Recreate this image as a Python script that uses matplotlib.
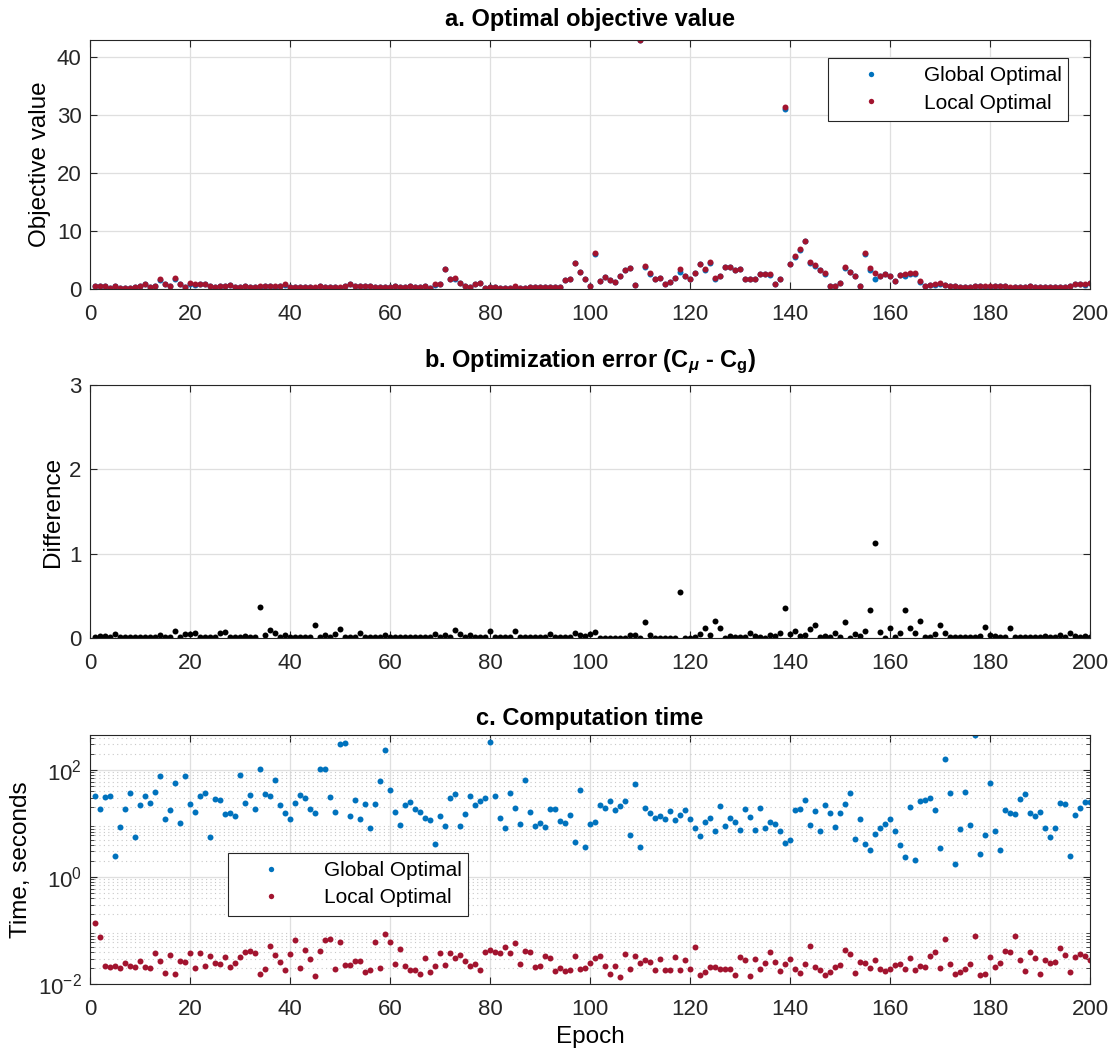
import numpy as np
import matplotlib.pyplot as plt
from matplotlib.ticker import LogLocator, NullFormatter

plt.rcParams['font.family'] = ['Liberation Sans', 'DejaVu Sans']
plt.rcParams['mathtext.fontset'] = 'custom'
plt.rcParams['mathtext.rm'] = 'Liberation Sans:bold'
plt.rcParams['mathtext.it'] = 'Liberation Sans:bold:italic'
plt.rcParams['mathtext.bf'] = 'Liberation Sans:bold'

BLUE = '#0072BD'
RED = '#A2142F'
SPINE = '#262626'

epochs = np.arange(1, 201)

# objective value reached by the local solver, per epoch
local_obj = [
    0.57, 0.57, 0.57, 0.23, 0.57, 0.23, 0.23, 0.23, 0.34, 0.57,
    0.86, 0.34, 0.46, 1.67, 0.80, 0.46, 1.84, 0.80, 0.34, 0.97,
    0.80, 0.80, 0.80, 0.57, 0.34, 0.57, 0.57, 0.69, 0.34, 0.34,
    0.57, 0.34, 0.34, 0.57, 0.57, 0.57, 0.46, 0.57, 0.80, 0.34,
    0.34, 0.34, 0.34, 0.34, 0.34, 0.46, 0.34, 0.34, 0.34, 0.34,
    0.57, 0.80, 0.57, 0.57, 0.46, 0.57, 0.34, 0.34, 0.34, 0.34,
    0.46, 0.34, 0.34, 0.46, 0.34, 0.34, 0.46, 0.23, 0.80, 0.80,
    3.45, 1.67, 1.84, 1.09, 0.57, 0.34, 0.80, 0.97, 0.23, 0.34,
    0.34, 0.23, 0.23, 0.23, 0.46, 0.23, 0.23, 0.34, 0.34, 0.34,
    0.34, 0.34, 0.34, 0.34, 1.49, 1.72, 4.54, 2.99, 1.67, 0.57,
    6.15, 1.44, 2.07, 1.55, 1.15, 2.18, 3.28, 3.68, 0.75, 43.0,
    3.97, 2.70, 1.72, 1.95, 0.92, 1.15, 1.95, 3.45, 2.30, 1.72,
    2.82, 4.31, 3.39, 4.60, 1.95, 2.30, 3.79, 3.74, 3.22, 3.39,
    1.78, 1.78, 1.67, 2.53, 2.64, 2.53, 0.92, 1.72, 31.5, 4.31,
    5.69, 6.84, 8.33, 4.66, 4.14, 3.33, 2.70, 0.57, 0.51, 1.03,
    3.74, 2.99, 2.30, 0.57, 6.15, 3.56, 2.82, 2.30, 2.53, 2.30,
    1.38, 2.41, 2.64, 2.70, 2.70, 1.44, 0.57, 0.69, 0.80, 1.09,
    0.69, 0.57, 0.46, 0.34, 0.34, 0.34, 0.46, 0.57, 0.46, 0.46,
    0.46, 0.57, 0.57, 0.34, 0.34, 0.34, 0.34, 0.46, 0.34, 0.34,
    0.34, 0.34, 0.34, 0.34, 0.34, 0.57, 0.80, 0.92, 0.80, 1.00,
]

# optimization error C_mu - C_g
opt_error = [
    0.010, 0.020, 0.020, 0.010, 0.050, 0.010, 0.010, 0.010, 0.010, 0.010,
    0.010, 0.010, 0.010, 0.035, 0.010, 0.010, 0.080, 0.010, 0.050, 0.050,
    0.060, 0.010, 0.010, 0.010, 0.010, 0.055, 0.075, 0.010, 0.010, 0.010,
    0.020, 0.010, 0.010, 0.370, 0.040, 0.100, 0.055, 0.010, 0.040, 0.010,
    0.010, 0.010, 0.010, 0.010, 0.155, 0.010, 0.040, 0.010, 0.048, 0.107,
    0.010, 0.010, 0.010, 0.060, 0.010, 0.010, 0.010, 0.010, 0.035, 0.010,
    0.010, 0.010, 0.010, 0.010, 0.010, 0.010, 0.010, 0.010, 0.048, 0.010,
    0.040, 0.010, 0.100, 0.048, 0.010, 0.040, 0.010, 0.010, 0.010, 0.080,
    0.010, 0.010, 0.010, 0.010, 0.080, 0.010, 0.010, 0.010, 0.010, 0.010,
    0.010, 0.048, 0.010, 0.010, 0.010, 0.010, 0.055, 0.040, 0.028, 0.048,
    0.067, 0.005, 0.005, 0.005, 0.005, 0.005, 0.005, 0.036, 0.040, 0.005,
    0.190, 0.040, 0.005, 0.005, 0.005, 0.005, 0.005, 0.540, 0.005, 0.005,
    0.016, 0.048, 0.120, 0.040, 0.200, 0.123, 0.005, 0.020, 0.010, 0.010,
    0.010, 0.055, 0.024, 0.010, 0.005, 0.040, 0.028, 0.060, 0.360, 0.048,
    0.083, 0.028, 0.036, 0.107, 0.160, 0.008, 0.028, 0.016, 0.055, 0.016,
    0.190, 0.002, 0.044, 0.024, 0.087, 0.337, 1.127, 0.075, 0.002, 0.123,
    0.016, 0.055, 0.333, 0.115, 0.055, 0.200, 0.008, 0.008, 0.048, 0.160,
    0.055, 0.008, 0.016, 0.008, 0.008, 0.016, 0.008, 0.024, 0.130, 0.040,
    0.028, 0.008, 0.008, 0.120, 0.016, 0.016, 0.016, 0.008, 0.008, 0.016,
    0.024, 0.008, 0.008, 0.036, 0.008, 0.060, 0.024, 0.016, 0.028, 0.016,
]

global_obj = np.array(local_obj) - np.array(opt_error)

# computation time in seconds
global_time = [
    32.6, 18.8, 30.7, 32.6, 2.45, 8.5, 18.8, 36.6, 5.5, 22.4,
    32.1, 23.7, 39.3, 77.5, 12.0, 18.0, 58, 10.3, 76, 23.4,
    16.3, 32.1, 37.6, 5.6, 29, 27.8, 15.2, 15.8, 13.6, 81.8,
    24, 33.5, 18.6, 103, 36, 32.6, 65, 22, 15.8, 12.2,
    24.4, 33.5, 29.4, 18.8, 15.6, 103, 103, 31.2, 16.3, 303,
    325, 13.6, 27.8, 12.4, 23, 8.4, 23.4, 63, 237, 42,
    16.3, 9.2, 21.8, 25.1, 18.3, 16.1, 12.8, 11.5, 4.1, 13.7,
    8.9, 29.8, 35.5, 8.9, 15, 32.1, 22.4, 26.6, 29.4, 340,
    32.1, 12.8, 8.2, 37.6, 19.1, 9.8, 66, 16.1, 9, 10.3,
    8.7, 18.8, 18.3, 11, 10.3, 14.3, 4.5, 41.6, 3.7, 9.8,
    10.7, 21.8, 19.6, 26.2, 17.8, 20.8, 25.8, 6.0, 55.4, 3.7,
    19.1, 15.8, 12.6, 13.7, 11.9, 16.8, 11.4, 14.3, 18, 11.9,
    8.4, 5.8, 10.5, 12.6, 7.2, 21.1, 9, 12.8, 10.7, 7.6,
    18.6, 13.3, 7.7, 19.6, 8.2, 10.7, 9.7, 7.2, 4.3, 4.9,
    18, 18.3, 27, 9.2, 17.3, 7.1, 22, 15.6, 8.7, 15.6,
    23.4, 37.6, 5.2, 12, 4.1, 3.2, 6.4, 8.1, 9.7, 12,
    7.3, 4, 2.4, 20.6, 2.1, 25.8, 27.8, 29.8, 18, 3.5,
    161, 37.6, 1.78, 7.8, 38.7, 9.2, 450, 2.7, 6, 57,
    7.1, 3.2, 18, 15.6, 14.8, 29, 36, 15.4, 13.9, 16.6,
    8.2, 5.5, 8.3, 24.4, 23.4, 2.45, 14.6, 19.3, 24.8, 25.1,
]

local_time = [
    0.139, 0.076, 0.0218, 0.0209, 0.0218, 0.0203, 0.0248, 0.022, 0.0209, 0.027,
    0.0209, 0.0203, 0.0387, 0.0266, 0.0161, 0.0345, 0.0156, 0.0266, 0.0258, 0.038,
    0.02, 0.038, 0.022, 0.0335, 0.0248, 0.0233, 0.032, 0.0209, 0.025, 0.0316,
    0.039, 0.0415, 0.0387, 0.0152, 0.0194, 0.051, 0.0345, 0.026, 0.0185, 0.0365,
    0.066, 0.0197, 0.044, 0.03, 0.0143, 0.041, 0.068, 0.069, 0.019, 0.06,
    0.023, 0.023, 0.0266, 0.0266, 0.0168, 0.0183, 0.062, 0.02, 0.088, 0.06,
    0.0237, 0.045, 0.0214, 0.018, 0.018, 0.0156, 0.0307, 0.0165, 0.0214, 0.0387,
    0.023, 0.0387, 0.0303, 0.0355, 0.0266, 0.0214, 0.024, 0.0185, 0.04, 0.044,
    0.039, 0.0376, 0.049, 0.0376, 0.0587, 0.0233, 0.0415, 0.0404, 0.0206, 0.0218,
    0.0335, 0.031, 0.0176, 0.0203, 0.0176, 0.0185, 0.033, 0.019, 0.0197, 0.0244,
    0.0307, 0.034, 0.022, 0.0154, 0.0214, 0.0137, 0.0365, 0.0188, 0.033, 0.025,
    0.028, 0.026, 0.0185, 0.03, 0.0185, 0.0185, 0.0326, 0.0185, 0.0285, 0.0188,
    0.049, 0.0146, 0.0171, 0.0211, 0.0206, 0.0188, 0.0188, 0.0188, 0.015, 0.032,
    0.0278, 0.0143, 0.03, 0.0194, 0.0244, 0.039, 0.0254, 0.0173, 0.0233, 0.029,
    0.0188, 0.0161, 0.024, 0.052, 0.0211, 0.0183, 0.015, 0.0165, 0.0209, 0.0224,
    0.0434, 0.0365, 0.0161, 0.0254, 0.025, 0.0197, 0.0285, 0.0194, 0.0178, 0.0194,
    0.0227, 0.0237, 0.019, 0.031, 0.018, 0.022, 0.0209, 0.033, 0.04, 0.0203,
    0.069, 0.0233, 0.0152, 0.0171, 0.019, 0.0233, 0.079, 0.0146, 0.0152, 0.032,
    0.0206, 0.0248, 0.0415, 0.039, 0.079, 0.0285, 0.0176, 0.04, 0.0307, 0.0156,
    0.0278, 0.0248, 0.0254, 0.0466, 0.0355, 0.0165, 0.0326, 0.036, 0.034, 0.0278,
]

fig = plt.figure(figsize=(11.14, 10.57), dpi=100)
ax_a = fig.add_axes([0.0808, 0.7266, 0.8977, 0.2356])
ax_b = fig.add_axes([0.0808, 0.3964, 0.8977, 0.2394])
ax_c = fig.add_axes([0.0808, 0.0690, 0.8977, 0.2356])

ms = 4.3
TICK_FS = 16
LABEL_FS = 17.5
TITLE_FS = 17
LEGEND_FS = 15


def style_axes(ax):
    ax.set_xlim(0, 200)
    ax.set_xticks(np.arange(0, 201, 20))
    ax.tick_params(direction='in', top=True, right=True, labelsize=TICK_FS,
                   colors=SPINE, length=5, width=0.8, pad=6)
    ax.tick_params(axis='x', pad=11)
    ax.tick_params(which='minor', direction='in', top=True, right=True,
                   length=3, width=0.6, colors=SPINE)
    for s in ax.spines.values():
        s.set_color(SPINE)
        s.set_linewidth(0.8)
    ax.grid(True, which='major', color='#dfdfdf', linewidth=0.9)
    ax.set_axisbelow(True)


def add_legend(ax, x0, y_top):
    leg = ax.legend(loc='upper left', bbox_to_anchor=(x0, y_top - 0.01, 0.24, 0.01),
                    mode='expand', borderaxespad=0, fontsize=LEGEND_FS,
                    frameon=True, fancybox=False, edgecolor=SPINE,
                    borderpad=0.4, labelspacing=0.4, handlelength=3.3,
                    handletextpad=0.9, markerscale=0.9, framealpha=1)
    leg.get_frame().set_linewidth(0.8)


# a. objective values
ax_a.plot(epochs, global_obj, 'o', color=BLUE, ms=ms, mec='none',
          label='Global Optimal')
ax_a.plot(epochs, local_obj, 'o', color=RED, ms=ms, mec='none',
          label='Local Optimal')
style_axes(ax_a)
ax_a.set_ylim(0, 43)
ax_a.set_yticks([0, 10, 20, 30, 40])
ax_a.set_ylabel('Objective value', fontsize=LABEL_FS)
ax_a.set_title('a. Optimal objective value', fontsize=TITLE_FS,
               fontweight='bold', pad=10)
add_legend(ax_a, 0.738, 0.928)

# b. optimization error
ax_b.plot(epochs, opt_error, 'o', color='black', ms=ms, mec='none')
style_axes(ax_b)
ax_b.set_ylim(0, 3)
ax_b.set_yticks([0, 1, 2, 3])
ax_b.set_ylabel('Difference', fontsize=LABEL_FS)
ax_b.set_title(r'b. Optimization error (C$_{\mu}$ - C$_{\mathrm{g}}$)',
               fontsize=TITLE_FS, fontweight='bold', pad=13)

# c. computation time, log scale
ax_c.plot(epochs, global_time, 'o', color=BLUE, ms=ms, mec='none',
          label='Global Optimal')
ax_c.plot(epochs, local_time, 'o', color=RED, ms=ms, mec='none',
          label='Local Optimal')
ax_c.set_yscale('log')
style_axes(ax_c)
ax_c.set_ylim(0.01, 450)
ax_c.set_yticks([1e-2, 1e0, 1e2])
ax_c.yaxis.set_minor_locator(LogLocator(base=10, subs=np.arange(2, 10),
                                        numticks=20))
ax_c.yaxis.set_minor_formatter(NullFormatter())
ax_c.grid(True, which='minor', axis='y', color='#c8c8c8',
          linestyle=(0, (1, 3)), linewidth=0.8)
ax_c.grid(True, which='major', axis='y', color='#dfdfdf', linewidth=0.9)
ax_c.set_ylabel('Time, seconds', fontsize=LABEL_FS)
ax_c.set_xlabel('Epoch', fontsize=LABEL_FS, labelpad=4)
ax_c.set_title('c. Computation time', fontsize=TITLE_FS, fontweight='bold',
               pad=7)
add_legend(ax_c, 0.138, 0.528)

fig.savefig('out.png', dpi=100, facecolor='white')
